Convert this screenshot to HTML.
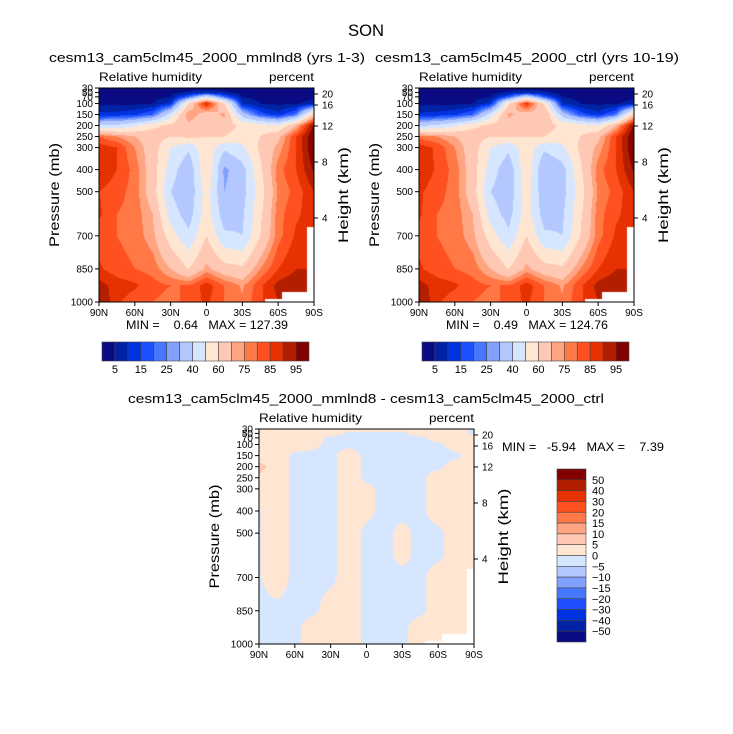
<!DOCTYPE html>
<html><head><meta charset="utf-8">
<style>
body{margin:0;background:#fff;width:733px;height:734px;overflow:hidden;position:relative;font-family:"Liberation Sans",sans-serif}
canvas{position:absolute}
svg{position:absolute;left:0;top:0}
text{font-family:"Liberation Sans",sans-serif;fill:#000;white-space:pre}
</style></head>
<body>
<canvas id="cA" width="215" height="214" style="left:99px;top:88px"></canvas>
<canvas id="cB" width="215" height="214" style="left:419px;top:88px"></canvas>
<canvas id="cD" width="215" height="215" style="left:259px;top:429px"></canvas>
<svg id="s" width="733" height="734"></svg>
<script>
const lats=[90,75,60,45,30,15,0,-15,-30,-45,-60,-75,-90];
const levs=[30,50,70,100,150,200,250,300,400,500,600,700,850,925,1000];
const rhA=[
[1,1,1,1,2,3,3,3,2,1,1,1,1],
[2,2,2,2,3,6,8,6,3,2,2,2,2],
[3,3,3,3,5,20,45,20,5,3,3,3,3],
[4,4,4,5,12,60,90,60,10,5,4,4,8],
[12,12,14,20,45,75,65,72,35,18,12,22,65],
[40,42,48,58,62,68,62,65,58,55,50,70,97],
[80,75,70,65,60,62,60,60,55,60,68,85,100],
[88,85,75,65,50,42,58,42,48,62,72,85,100],
[90,85,78,65,45,32,60,28,36,58,78,85,96],
[85,82,78,65,40,32,55,30,36,55,76,82,90],
[86,80,78,70,45,35,55,34,38,58,78,84,88],
[82,80,78,72,55,42,60,42,40,60,78,86,88],
[86,82,80,78,70,60,72,64,62,75,85,90,90],
[92,88,86,82,80,80,88,80,74,84,92,94,94],
[96,86,82,80,78,82,86,80,76,84,90,94,94]];
const rhB=[
[1,1,1,1,2,3,3,3,2,1,1,1,1],
[2,2,2,2,3,6,8,6,3,2,2,2,2],
[3,3,3,3,5,18,42,18,5,3,3,3,3],
[4,4,4,5,12,58,88,58,10,5,4,4,8],
[11,12,14,20,45,72,65,70,35,18,12,22,65],
[38,42,48,58,62,66,62,65,58,55,50,70,97],
[78,75,70,65,60,60,60,60,55,60,68,85,100],
[88,84,75,65,50,42,57,42,48,62,72,85,100],
[90,84,78,65,45,33,58,30,36,58,78,85,96],
[86,82,78,65,40,33,56,32,36,55,76,82,90],
[86,80,78,70,45,36,55,35,38,58,78,84,88],
[83,80,78,72,55,42,60,42,40,60,78,86,88],
[86,82,80,78,70,60,72,64,62,75,85,90,90],
[92,88,86,82,80,80,88,80,74,84,92,94,94],
[96,86,82,80,78,82,86,80,76,84,90,94,94]];
const rhDiff=[
[2,2,2,2,2,2,2,2,2,2,2,2,-1],
[2,2,2,2,2,-1,-1,-1,-1,2,2,2,-1],
[2,2,2,2,-1,-1,-1,-1,-1,-1,2,2,2],
[2,2,2,1,-1,-1,-1,-1,-1,-1,-1,2,2],
[2,2,-1,-1,-1,2,-1,-1,-1,-1,-1,-1,2],
[7,2,-1,-1,-1,2,-1,-1,-1,-1,-1,2,2],
[4,2,-1,-1,-1,2,-1,-1,-1,-1,2,2,2],
[1,2,-1,-1,-1,2,1,-1,-1,-1,2,2,2],
[-0.3,2,-1,-1,-1,2,1,-1,-1,-1,2,2,2],
[-0.3,2,-1,-1,-1,2,-1,-1,1,-1,-1,2,2],
[-0.3,2,-1,-1,-1,2,-1,-1,1,-1,-1,2,2],
[-0.3,2,-1,-1,-1,2,-1,-1,-1,-1,2,2,2],
[-1,-1,-1,-1,2,2,-1,-1,-1,-1,2,2,2],
[-1,-1,-1,2,2,2,-1,-1,-1,2,2,2,2],
[-1,-1,-1,2,2,2,-1,-1,-1,2,2,2,2]];
const rhLevels=[5,10,15,20,25,30,40,50,60,70,75,80,85,90,95];
const rhLabels=["5","15","25","40","60","75","85","95"];
const diffLevels=[-50,-40,-30,-20,-15,-10,-5,0,5,10,15,20,30,40,50];
const diffLabels=["50","40","30","20","15","10","5","0","\u22125","\u221210","\u221215","\u221220","\u221230","\u221240","\u221250"];
const palette=["#0a0a82","#0023a5","#0032e0","#1e50ff","#4678ff","#82a0ff","#b4c8ff","#d7e6ff","#ffe6d2","#ffc8b4","#ffa582","#ff7846","#ff5020","#e63200","#b41e00","#820000"];
const maskLat=[-49,-63,-84];
const maskP=[985,955,660];
const pTicks=[30,50,70,100,150,200,250,300,400,500,700,850,1000];
const kmTicks=[20,16,12,8,4];
const kmY=[94,105,126,162,218];
const latTicks=["90N","60N","30N","0","30S","60S","90S"];

function hex(c){return [parseInt(c.substr(1,2),16),parseInt(c.substr(3,2),16),parseInt(c.substr(5,2),16)];}
const pal=palette.map(c=>hex(c));
function interp(grid,lat,p){
  let i=0;while(i<lats.length-2&&lat<lats[i+1])i++;
  let j=0;while(j<levs.length-2&&p>levs[j+1])j++;
  const fx=Math.min(1,Math.max(0,(lats[i]-lat)/(lats[i]-lats[i+1])));
  const fy=Math.min(1,Math.max(0,(p-levs[j])/(levs[j+1]-levs[j])));
  const a=grid[j][i],b=grid[j][i+1],c=grid[j+1][i],d=grid[j+1][i+1];
  return a*(1-fx)*(1-fy)+b*fx*(1-fy)+c*(1-fx)*fy+d*fx*fy;
}
function masked(lat,p){for(let k=maskLat.length-1;k>=0;k--){if(lat<maskLat[k]&&p>maskP[k])return true;}return false;}
function draw(id,grid,levels){
  const cv=document.getElementById(id),ctx=cv.getContext('2d');
  const w=cv.width,h=cv.height,img=ctx.createImageData(w,h);
  for(let y=0;y<h;y++)for(let x=0;x<w;x++){
    const lat=90-(x+0.5)/w*180,p=30+(y+0.5)/h*970;
    const o=(y*w+x)*4;
    if(masked(lat,p)){img.data[o]=255;img.data[o+1]=255;img.data[o+2]=255;img.data[o+3]=255;continue;}
    const v=interp(grid,lat,p);
    let k=0;while(k<levels.length&&v>=levels[k])k++;
    const c=pal[Math.min(k,pal.length-1)];img.data[o]=c[0];img.data[o+1]=c[1];img.data[o+2]=c[2];img.data[o+3]=255;
  }
  ctx.putImageData(img,0,0);
}
draw('cA',rhA,rhLevels);draw('cB',rhB,rhLevels);draw('cD',rhDiff,diffLevels);

const S=document.getElementById('s');const NS="http://www.w3.org/2000/svg";
function el(tag,attrs,txt){const e=document.createElementNS(NS,tag);for(const k in attrs)e.setAttribute(k,attrs[k]);if(txt!==undefined)e.textContent=txt;S.appendChild(e);return e;}

let t=el('text',{x:366,y:36,'font-size':17,'text-anchor':'middle',textLength:36,lengthAdjust:'spacingAndGlyphs'},'SON');



function panel(x0,y0,w,h,title,titleX,titleY,titleLen,pre){
  let e=el('text',{x:titleX,y:titleY,'font-size':13,'text-anchor':'middle',textLength:titleLen,lengthAdjust:'spacingAndGlyphs'},title);
  
  
  e=el('text',{x:x0,y:y0-7,'font-size':12,textLength:103,lengthAdjust:'spacingAndGlyphs'},'Relative humidity');
  
  
  e=el('text',{x:x0+w-45,y:y0-7,'font-size':12,textLength:45,lengthAdjust:'spacingAndGlyphs'},'percent');
  
  
  e=el('rect',{x:x0,y:y0,width:w,height:h,fill:'none',stroke:'#000','stroke-width':1});
  
  
  const py=p=>y0+(p-30)/970*h;
  pTicks.forEach((p,i)=>{
    const y=py(p);
    const tk=el('line',{x1:x0-4,x2:x0,y1:y,y2:y,stroke:'#000'});
    
    
    const lb=el('text',{x:x0-6,y:y+3.5,'font-size':10,'text-anchor':'end'},String(p));
    
    
  });
  kmTicks.forEach((k,i)=>{
    const y=kmY[i]-88+y0;
    const tk=el('line',{x1:x0+w,x2:x0+w+4,y1:y,y2:y,stroke:'#000'});
    
    
    const lb=el('text',{x:x0+w+8,y:y+3.5,'font-size':10},String(k));
    
    
  });
  latTicks.forEach((l,i)=>{
    const x=x0+i*w/6;
    const tk=el('line',{x1:x,x2:x,y1:y0+h,y2:y0+h+4,stroke:'#000'});
    
    
    const lb=el('text',{x:x,y:y0+h+14,'font-size':10,'text-anchor':'middle'},l);
    
    
  });
  e=el('text',{x:0,y:0,'font-size':14,'text-anchor':'middle',textLength:104,lengthAdjust:'spacingAndGlyphs',transform:'translate('+(x0-40)+','+(y0+h/2)+') rotate(-90)'},'Pressure (mb)');
  
  
  e=el('text',{x:0,y:0,'font-size':14,'text-anchor':'middle',textLength:96,lengthAdjust:'spacingAndGlyphs',transform:'translate('+(x0+w+34)+','+(y0+h/2)+') rotate(-90)'},'Height (km)');
  
  
}
panel(99,88,215,214,'cesm13_cam5clm45_2000_mmlnd8 (yrs 1-3)',207,62,316,'left');
panel(419,88,215,214,'cesm13_cam5clm45_2000_ctrl (yrs 10-19)',527,62,304,'right');
panel(259,429,215,215,'cesm13_cam5clm45_2000_mmlnd8 - cesm13_cam5clm45_2000_ctrl',366,403,476,'diff');

t=el('text',{x:207,y:329,'font-size':12,'text-anchor':'middle',textLength:162,lengthAdjust:'spacingAndGlyphs'},'MIN =    0.64   MAX = 127.39');


t=el('text',{x:527,y:329,'font-size':12,'text-anchor':'middle',textLength:162,lengthAdjust:'spacingAndGlyphs'},'MIN =    0.49   MAX = 124.76');


t=el('text',{x:502,y:451,'font-size':12,textLength:162,lengthAdjust:'spacingAndGlyphs'},'MIN =   -5.94   MAX =    7.39');



function hbar(x0,pre){
  const y0=342,bw=207/16,bh=19;
  palette.forEach((c,i)=>{
    const r=el('rect',{x:x0+i*bw,y:y0,width:bw,height:bh,fill:c,stroke:'#444','stroke-width':0.6});
    
    
  });
  rhLabels.forEach((l,i)=>{
    const lb=el('text',{x:x0+(2*i+1)*bw,y:y0+bh+12,'font-size':11,'text-anchor':'middle'},l);
    
    
  });
}
hbar(102,'left');hbar(422,'right');
(function(){
  const x0=557,y0=469,bw=29,bh=173/16;
  palette.slice().reverse().forEach((c,i)=>{
    const r=el('rect',{x:x0,y:y0+i*bh,width:bw,height:bh,fill:c,stroke:'#444','stroke-width':0.6});
    
    
  });
  diffLabels.forEach((l,i)=>{
    const lb=el('text',{x:592,y:y0+(i+1)*bh+4,'font-size':11},l);
    
    
  });
})();
</script>
</body></html>
